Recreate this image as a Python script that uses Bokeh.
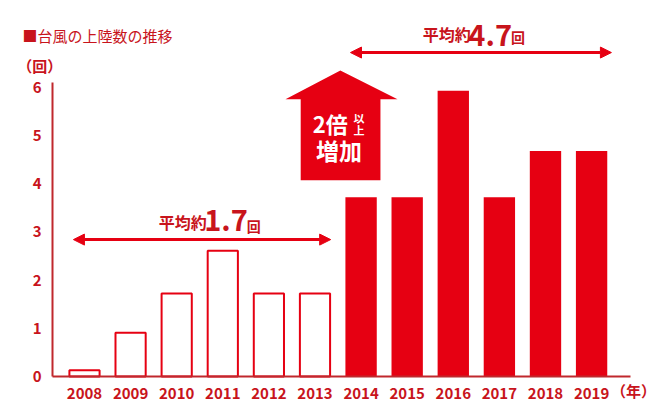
from bokeh.plotting import figure
from bokeh.models import FixedTicker, Label, Arrow, NormalHead
from bokeh.embed import file_html
from bokeh.resources import INLINE

# ---- data ----
years = ["2008", "2009", "2010", "2011", "2012", "2013",
         "2014", "2015", "2016", "2017", "2018", "2019"]
landfalls = [0.13, 0.91, 1.72, 2.61, 1.72, 1.72,
             3.72, 3.72, 5.93, 3.72, 4.68, 4.68]
y_ticks = [0, 1, 2, 3, 4, 5, 6]
avg_before = "1.7"
avg_after = "4.7"
title_text = "■台風の上陸数の推移"
y_unit = "（回）"
x_unit = "（年）"

# ---- styles ----
FONT = "Noto Sans CJK JP"
TEXT_RED = "#c8141c"
BAR_RED = "#e60012"
AXIS_RED = "#c0282d"

idx = list(range(len(years)))
before_idx = idx[:6]
after_idx = idx[6:]
AXIS_X = -0.694

p = figure(width=663, height=419, x_range=(-1.822, 12.56), y_range=(-0.892, 7.80),
           output_backend="svg", toolbar_location=None, title=None,
           min_border_left=0, min_border_right=0, min_border_top=0,
           min_border_bottom=0)
p.outline_line_color = None
p.xgrid.visible = False
p.ygrid.visible = False

# bars
p.vbar(x=before_idx, top=landfalls[:6], width=0.655, fill_color="white",
       line_color=BAR_RED, line_width=2)
p.vbar(x=after_idx, top=landfalls[6:], width=0.68, fill_color=BAR_RED,
       line_color=None)

# axes (placed at fixed data locations inside the canvas)
for ax in (p.xaxis[0], p.yaxis[0]):
    ax.axis_line_color = AXIS_RED
    ax.axis_line_width = 2
    ax.major_tick_line_color = None
    ax.minor_tick_line_color = None
    ax.major_label_text_font = FONT
    ax.major_label_text_font_style = "bold"
    ax.major_label_text_font_size = "15px"
    ax.major_label_text_color = TEXT_RED

p.yaxis[0].ticker = FixedTicker(ticks=y_ticks)
p.yaxis[0].bounds = (0, 6.1)
p.yaxis[0].major_label_standoff = 5
p.yaxis[0].fixed_location = AXIS_X

p.xaxis[0].ticker = FixedTicker(ticks=idx)
p.xaxis[0].major_label_overrides = {i: y for i, y in enumerate(years)}
p.xaxis[0].bounds = (AXIS_X, 11.84)
p.xaxis[0].major_label_standoff = 5
p.xaxis[0].fixed_location = 0

# title and unit labels
p.add_layout(Label(x=-1.345, y=7.07, text=title_text, text_font=FONT,
                   text_font_size="15px", text_color=TEXT_RED,
                   text_baseline="middle", text_align="left"))
p.add_layout(Label(x=-1.46, y=6.45, text=y_unit, text_font=FONT,
                   text_font_size="15px", text_font_style="bold",
                   text_color=TEXT_RED, text_baseline="middle", text_align="left"))
p.add_layout(Label(x=11.91, y=-0.30, text=x_unit, text_font=FONT,
                   text_font_size="15px", text_font_style="bold",
                   text_color=TEXT_RED, text_baseline="middle", text_align="center"))

# double arrows
for xs, xe, yy in ((-0.24, 5.34, 2.84), (5.77, 11.43, 6.72)):
    p.add_layout(Arrow(x_start=xs, y_start=yy, x_end=xe, y_end=yy,
                       line_color=BAR_RED, line_width=3,
                       start=NormalHead(size=11, fill_color=BAR_RED, line_color=BAR_RED),
                       end=NormalHead(size=11, fill_color=BAR_RED, line_color=BAR_RED)))

# average labels (x centre of number, y centres of the three parts)
for cx, yn, yp, yk, val in ((3.07, 3.24, 3.20, 3.13, avg_before),
                            (8.80, 7.09, 7.10, 7.05, avg_after)):
    p.add_layout(Label(x=cx, y=yn, text=val, text_font=FONT, text_font_size="29px",
                       text_font_style="bold", text_color=TEXT_RED,
                       text_align="center", text_baseline="middle"))
    p.add_layout(Label(x=cx - 0.42, y=yp, text="平均約", text_font=FONT,
                       text_font_size="16px", text_font_style="bold",
                       text_color=TEXT_RED, text_align="right",
                       text_baseline="middle"))
    p.add_layout(Label(x=cx + 0.45, y=yk, text="回", text_font=FONT,
                       text_font_size="14px", text_font_style="bold",
                       text_color=TEXT_RED, text_align="left",
                       text_baseline="middle"))

# big up arrow
arrow_xs = [4.69, 4.69, 4.36, 5.55, 6.79, 6.42, 6.42]
arrow_ys = [4.07, 5.75, 5.75, 6.35, 5.75, 5.75, 4.07]
p.patch(arrow_xs, arrow_ys, fill_color=BAR_RED, line_color=None)

p.add_layout(Label(x=4.95, y=5.26, text="2倍", text_font=FONT, text_font_size="22px",
                   text_font_style="bold", text_color="white",
                   text_align="left", text_baseline="middle"))
p.add_layout(Label(x=5.955, y=5.37, text="以", text_font=FONT, text_font_size="11px",
                   text_font_style="bold", text_color="white",
                   text_align="center", text_baseline="middle"))
p.add_layout(Label(x=5.955, y=5.11, text="上", text_font=FONT, text_font_size="11px",
                   text_font_style="bold", text_color="white",
                   text_align="center", text_baseline="middle"))
p.add_layout(Label(x=5.52, y=4.70, text="増加", text_font=FONT, text_font_size="23px",
                   text_font_style="bold", text_color="white",
                   text_align="center", text_baseline="middle"))

open("out.html", "w").write(file_html(p, INLINE))
